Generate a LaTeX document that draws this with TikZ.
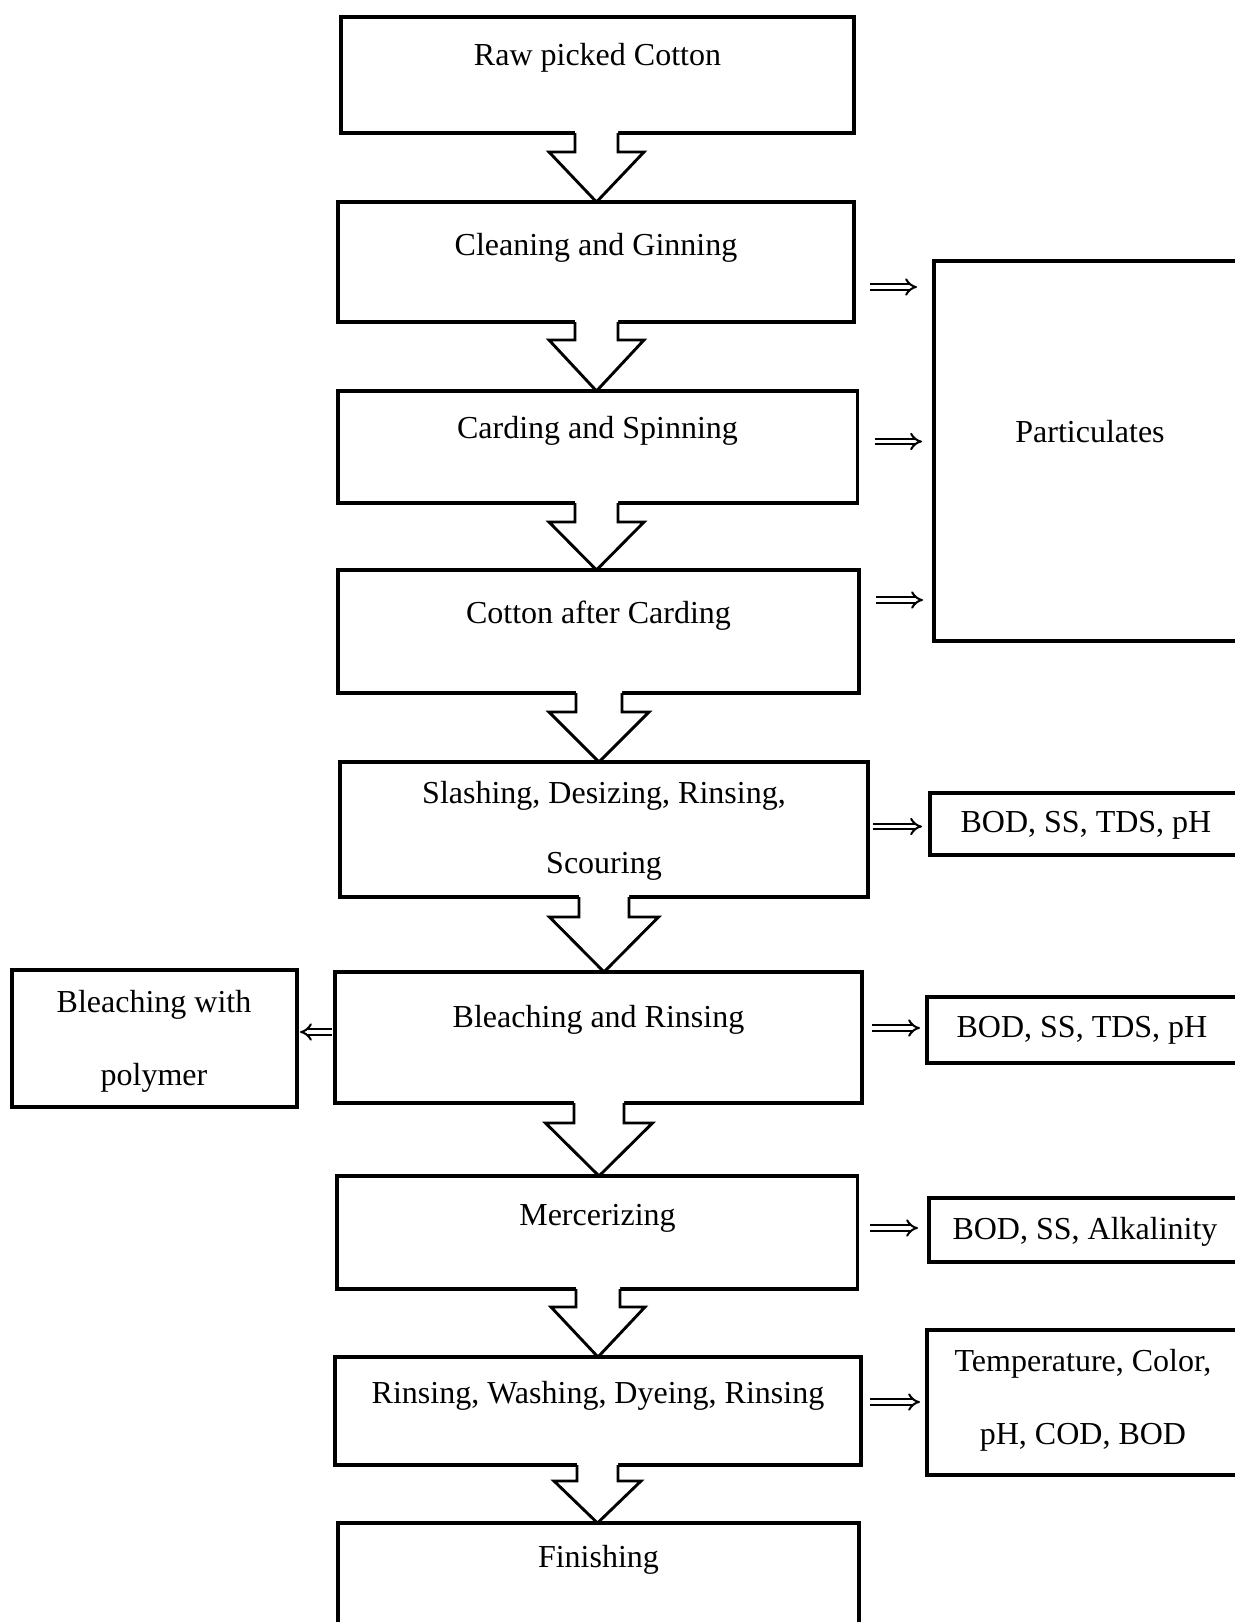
\documentclass[tikz,border=0pt]{standalone}
\usepackage{fontspec}
\setmainfont{Liberation Serif}
\usetikzlibrary{calc,fit,arrows.meta}
% block arrow: source, target, centre x, shaft half width, head half width, head height
\newcommand\blockarr[6]{%
  \coordinate (bxa) at (#3,0);
  \coordinate (bsa) at (#1.south -| bxa);
  \coordinate (bta) at (#2.north -| bxa);
  \fill[white] ($(bsa)+(-#4,-3)$) -- ($(bta)+(-#4,-#6)$) -- ($(bta)+(-#5,-#6)$) -- (bta)
     -- ($(bta)+(#5,-#6)$) -- ($(bta)+(#4,-#6)$) -- ($(bsa)+(#4,-3)$) -- cycle;
  \draw[blk] ($(bsa)+(-#4,0)$) -- ($(bta)+(-#4,-#6)$) -- ($(bta)+(-#5,-#6)$) -- (bta)
     -- ($(bta)+(#5,-#6)$) -- ($(bta)+(#4,-#6)$) -- ($(bsa)+(#4,0)$);
}
\begin{document}
\begin{tikzpicture}[x=0.5pt,y=-0.5pt,
  proc/.style={draw=black, line width=1.7pt, inner sep=0pt, outer sep=0pt, rectangle},
  lbl/.style={anchor=base, inner sep=0pt, font=\fontsize{16}{19}\selectfont},
  blk/.style={draw=black, line width=1.45pt, line join=miter},
  dbl/.style={draw=black, line width=1pt, double=white, double distance=1.9pt, -{Implies[length=6pt]}}]
\useasboundingbox (0,0) rectangle (1235,1622);
\clip (0,0) rectangle (1235,1622);
\fill[white] (0,0) rectangle (1235,1622);

% main process boxes
\node[proc, fit={(341,17) (854,133)}] (b1) {};
\node[proc, fit={(338,202) (854,322)}] (b2) {};
\node[proc, fit={(338,391) (857.5,503)}] (b3) {};
\node[proc, fit={(338,570) (859,693)}] (b4) {};
\node[proc, fit={(340,762) (868,897)}] (b5) {};
\node[proc, fit={(335,972) (862,1103)}] (b6) {};
\node[proc, fit={(337,1176) (857.5,1289)}] (b7) {};
\node[proc, fit={(335,1357) (861,1465)}] (b8) {};
\node[proc, fit={(338,1523) (859,1660)}] (b9) {};

% side boxes
\node[proc, fit={(934,261) (1242,641)}] (r1) {};
\node[proc, fit={(930,793) (1242,855)}] (r2) {};
\node[proc, fit={(927,997) (1242,1063)}] (r3) {};
\node[proc, fit={(929,1198) (1242,1262)}] (r4) {};
\node[proc, fit={(927,1330) (1242,1475)}] (r5) {};
\node[proc, fit={(12,970) (297,1107)}] (l1) {};

% block arrows
\blockarr{b1}{b2}{596.5}{21.5}{47.5}{50}
\blockarr{b2}{b3}{596.5}{21.5}{47.5}{51}
\blockarr{b3}{b4}{596.5}{21.5}{47.5}{48}
\blockarr{b4}{b5}{599}{23}{50}{50}
\blockarr{b5}{b6}{604}{25}{54.5}{55}
\blockarr{b6}{b7}{599}{25}{53.5}{53}
\blockarr{b7}{b8}{598}{22}{47}{50}
\blockarr{b8}{b9}{597.5}{20.5}{43.5}{42}

% texts
\node[lbl] (t1) at (597.5,65) {Raw picked Cotton};
\node[lbl] (t2) at (596,255) {Cleaning and Ginning};
\node[lbl] (t3) at (597.5,438) {Carding and Spinning};
\node[lbl] (t4) at (598.5,623) {Cotton after Carding};
\node[lbl] (t5a) at (604,803) {Slashing, Desizing, Rinsing,};
\node[lbl] (t5b) at (604,873) {Scouring};
\node[lbl] (t6) at (598.5,1027) {Bleaching and Rinsing};
\node[lbl] (t7) at (597.5,1225) {Mercerizing};
\node[lbl] (t8) at (598,1403) {Rinsing, Washing, Dyeing, Rinsing};
\node[lbl] (t9) at (598.5,1567) {Finishing};

\node[lbl] (s1) at (1090,442) {Particulates};
\node[lbl] (s2) at (1086,832) {BOD, SS, TDS, pH};
\node[lbl] (s3) at (1082,1037) {BOD, SS, TDS, pH};
\node[lbl] (s4) at (1085,1239) {BOD, SS, Alkalinity};
\node[lbl] (s5a) at (1083,1371) {Temperature, Color,};
\node[lbl] (s5b) at (1083,1444) {pH, COD, BOD};
\node[lbl] (sl1) at (154,1012) {Bleaching with};
\node[lbl] (sl2) at (154,1085) {polymer};

% double arrows
\coordinate (d1s) at (870,287);   \coordinate (d1e) at (917,287);
\coordinate (d2s) at (875,441.5); \coordinate (d2e) at (922,441.5);
\coordinate (d3s) at (876,600);   \coordinate (d3e) at (923,600);
\coordinate (d4s) at (873,826.5); \coordinate (d4e) at (922,826.5);
\coordinate (d5s) at (872,1028);  \coordinate (d5e) at (920,1028);
\coordinate (d6s) at (870,1228);  \coordinate (d6e) at (918,1228);
\coordinate (d7s) at (870,1402);  \coordinate (d7e) at (920,1402);
\coordinate (dls) at (332,1032);  \coordinate (dle) at (300,1032);
\draw[dbl] (d1s) -- (d1e);
\draw[dbl] (d2s) -- (d2e);
\draw[dbl] (d3s) -- (d3e);
\draw[dbl] (d4s) -- (d4e);
\draw[dbl] (d5s) -- (d5e);
\draw[dbl] (d6s) -- (d6e);
\draw[dbl] (d7s) -- (d7e);
\draw[dbl] (dls) -- (dle);
\end{tikzpicture}
\end{document}
